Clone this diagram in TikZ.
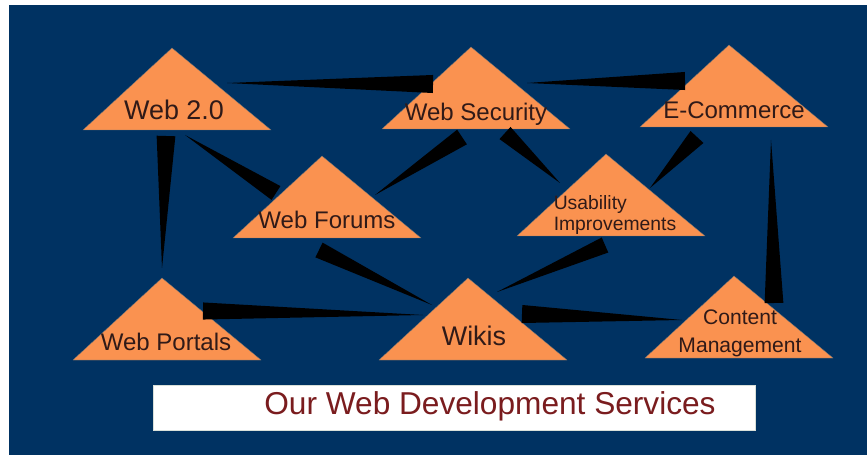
\documentclass[tikz,border=0pt]{standalone}
\usepackage{fontspec}
\setmainfont{Liberation Sans}
\usetikzlibrary{calc}
\definecolor{bgblue}{RGB}{0,50,98}
\definecolor{triorange}{RGB}{250,146,80}
\definecolor{txtbrown}{RGB}{48,26,24}
\definecolor{ttlred}{RGB}{122,28,30}

\begin{document}
\begin{tikzpicture}[x=0.03cm,y=-0.03cm,
  tri/.style={fill=triorange,draw=black!55,line width=0.3pt},
  spike/.style={fill=black},
  lbl/.style={text=txtbrown,align=center,inner sep=0pt}]
\useasboundingbox (0,0) rectangle (867,455);
\fill[bgblue] (9,5) rectangle (867,455);
\foreach \n/\x/\y in{
web/177/130,
sec/476/129,
ecom/734/127,
forum/327/238,
usab/611/236,
portal/167/360,
wiki/473/360,
cms/739/358
}
{
        \coordinate (\n) at (\x,\y);
        \filldraw[tri] ($(\n)+(-94,0)$) -- ($(\n)+(-5,-82)$) -- ($(\n)+(94,0)$) -- cycle;
    }
\foreach \s/\sx/\sy/\t/\tx/\ty/\w in{
sec/-43/-45/web/50/-47/7.7pt,
ecom/-49/-46/sec/51/-46/7.7pt,
web/-11/6/portal/-5/-92/8pt,
forum/-51/-45/web/8/5/7pt,
sec/-14/8/forum/48/-43/7.5pt,
sec/29/4/usab/-51/-53/7pt,
ecom/-37/10/usab/39/-48/7.5pt,
cms/35/-55/ecom/37/13/8pt,
forum/-8/12/wiki/-41/-55/7pt,
usab/-6/9/wiki/24/-68/7pt,
portal/36/-49/wiki/-50/-45/7.3pt,
wiki/49/-46/cms/-57/-38/7.7pt
}
{
        \path ($(\s)+(\sx,\sy)$) coordinate (p) ($(\t)+(\tx,\ty)$) coordinate (q);
        \fill[spike] ($(p)!\w!90:(q)$) -- ($(p)!\w!-90:(q)$) -- (q) -- cycle;
    }
\foreach \n/\dx/\dy/\l/\fsz/\lsk/\al in{
web/-3/-20/{Web 2.0}/23/26/center,
sec/0/-15/{Web Security}/20.5/24/center,
ecom/0/-17/{E-Commerce}/20.5/24/center,
forum/0/-18/{Web Forums}/20.5/24/center,
usab/4/-21/{Usability\\Improvements}/16.5/17.5/left,
portal/-1/-18/{Web Portals}/20.5/24/center,
wiki/1/-24/{Wikis}/23/26/center,
cms/1/-25/{Content\\Management}/18/24/center
}
{
        \node[lbl,align/.expanded=\al,font=\fontsize{\fsz}{\lsk}\selectfont] (\n-l) at ($(\n)+(\dx,\dy)$) {\l};
    }
\node[fill=white,draw=green!20!black!15,line width=0.6pt,minimum width=18.06cm,minimum height=1.35cm,inner sep=0pt] (box) at (454,407.5) {};
\node[text=ttlred,font=\fontsize{27}{30}\selectfont,inner sep=0pt] (title) at (490,406) {Our Web Development Services};
\end{tikzpicture}
\end{document}
